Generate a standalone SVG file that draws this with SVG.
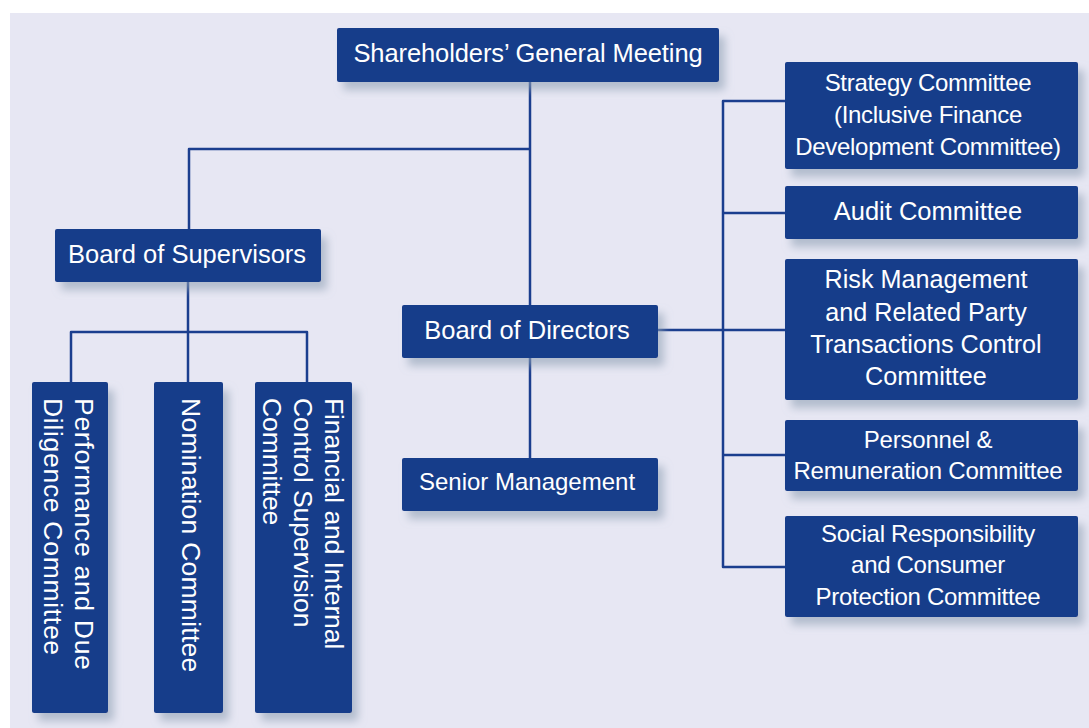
<svg xmlns="http://www.w3.org/2000/svg" width="1089" height="728" viewBox="0 0 1089 728">
<style>
.box{fill:#173c8a;filter:url(#sh)}
.t{fill:#ffffff;font-family:"Liberation Sans",Arial,sans-serif;text-anchor:middle}
.v{fill:#ffffff;font-family:"Liberation Sans",Arial,sans-serif;font-size:26.5px;text-anchor:start}
.ln{fill:none;stroke:#1b3e8e;stroke-width:2.5;stroke-linejoin:round;stroke-linecap:butt}
</style>
<defs>
<filter id="sh" x="-20%" y="-20%" width="150%" height="160%">
<feDropShadow dx="6" dy="8" stdDeviation="4" flood-color="#8fa0b4" flood-opacity="0.6"/>
</filter>
</defs>
<rect x="0" y="0" width="1089" height="728" fill="#ffffff"/>
<rect x="10" y="13" width="1079" height="715" fill="#e7e7f3"/>
<g id="connectors" class="ln">
<path d="M530 82 V305"/>
<path d="M530 149 H189 V229"/>
<path d="M188 282 V382"/>
<path d="M71 382 V332 H307 V382"/>
<path d="M530 358 V458"/>
<path d="M658 330 H785"/>
<path d="M785 101 H723 V567 H785"/>
<path d="M723 213 H785"/>
<path d="M723 455 H785"/>
</g>
<g id="shareholders">
<rect class="box" x="337" y="28" width="382" height="54" rx="2"/>
<text class="t" x="528" y="62" font-size="25.5" letter-spacing="-0.1">Shareholders’ General Meeting</text>
</g>
<g id="supervisors">
<rect class="box" x="55" y="229" width="266" height="53" rx="2"/>
<text class="t" x="187" y="263" font-size="25.5">Board of Supervisors</text>
</g>
<g id="directors">
<rect class="box" x="402" y="305" width="256" height="53" rx="2"/>
<text class="t" x="527" y="339" font-size="25.5">Board of Directors</text>
</g>
<g id="senior">
<rect class="box" x="402" y="458" width="256" height="53" rx="2"/>
<text class="t" x="527" y="490" font-size="24">Senior Management</text>
</g>
<g id="strategy">
<rect class="box" x="785" y="62" width="293" height="107" rx="2"/>
<text class="t" font-size="24" letter-spacing="-0.3"><tspan x="928" y="91">Strategy Committee</tspan><tspan x="928" y="123">(Inclusive Finance</tspan><tspan x="928" y="155">Development Committee)</tspan></text>
</g>
<g id="audit">
<rect class="box" x="785" y="186" width="293" height="53" rx="2"/>
<text class="t" x="928" y="220" font-size="25.5">Audit Committee</text>
</g>
<g id="risk">
<rect class="box" x="785" y="259" width="293" height="141" rx="2"/>
<text class="t" font-size="25.2"><tspan x="926" y="288">Risk Management</tspan><tspan x="926" y="321">and Related Party</tspan><tspan x="926" y="353">Transactions Control</tspan><tspan x="926" y="385">Committee</tspan></text>
</g>
<g id="personnel">
<rect class="box" x="785" y="420" width="293" height="71" rx="2"/>
<text class="t" font-size="24" letter-spacing="-0.2"><tspan x="928" y="448">Personnel &amp;</tspan><tspan x="928" y="479">Remuneration Committee</tspan></text>
</g>
<g id="social">
<rect class="box" x="785" y="516" width="293" height="101" rx="2"/>
<text class="t" font-size="24" letter-spacing="-0.3"><tspan x="928" y="542">Social Responsibility</tspan><tspan x="928" y="573">and Consumer</tspan><tspan x="928" y="605">Protection Committee</tspan></text>
</g>
<g id="performance">
<rect class="box" x="32" y="382" width="76" height="331" rx="2"/>
<text class="v" letter-spacing="0.7" transform="translate(75 398) rotate(90)"><tspan x="0" y="0">Performance and Due</tspan><tspan x="0" y="31">Diligence Committee</tspan></text>
</g>
<g id="nomination">
<rect class="box" x="154" y="382" width="69" height="331" rx="2"/>
<text class="v" letter-spacing="0.25" transform="translate(182 398) rotate(90)">Nomination Committee</text>
</g>
<g id="financial">
<rect class="box" x="255" y="382" width="97" height="331" rx="2"/>
<text class="v" letter-spacing="-0.1" transform="translate(325 398) rotate(90)"><tspan x="0" y="0">Financial and Internal</tspan><tspan x="0" y="31">Control Supervision</tspan><tspan x="0" y="62">Committee</tspan></text>
</g>
</svg>
